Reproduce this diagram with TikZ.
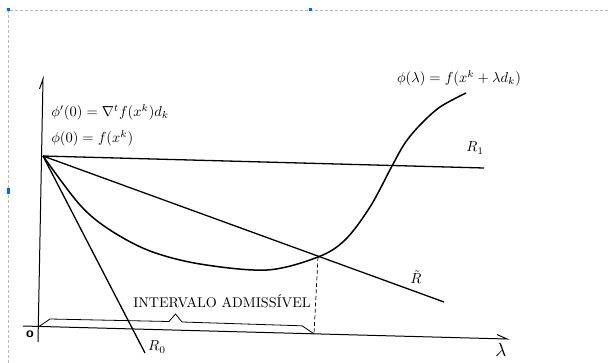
\documentclass[tikz,border=0pt]{standalone}
\usepackage{amsmath}
\begin{document}
\begin{tikzpicture}[x=1pt,y=-1pt,
  curve/.style={line width=1.5pt},
  rline/.style={line width=1.3pt},
  axisline/.style={line width=1pt},
  bracel/.style={line width=0.8pt},
  lbl/.style={inner sep=0pt, scale=1.45},
  frame/.style={gray!55, dash pattern=on 3pt off 2pt, line width=0.5pt},
  handle/.style={fill=blue!60!cyan}
]
\useasboundingbox (0,0) rectangle (609,363);
% screenshot frame
\draw[frame] (8,363) -- (8,10) -- (609,10);
\fill[handle] (6.5,8.5) rectangle (9.5,11.5);
\fill[handle] (308.5,8.5) rectangle (311.5,11.5);
\fill[handle] (6.5,188.5) rectangle (9.5,193.5);
% coordinates
\coordinate (P) at (43,156);
\coordinate (R1e) at (484,168);
\coordinate (Rte) at (444,302);
\coordinate (R0e) at (145,353);
\coordinate (Q) at (318,257);
\coordinate (Qa) at (314,333.8);
\coordinate (Vt) at (43,79);
\coordinate (Vb) at (38,342);
\coordinate (Vh) at (39.5,89);
\coordinate (Hs) at (23,326);
\coordinate (He) at (507,339);
\coordinate (Hh) at (497,334.5);
% axes
\draw[axisline] (Vb) -- (Vt) -- (Vh);
\draw[axisline] (Hs) -- (He) -- (Hh);
% lines
\draw[rline] (P) -- (R1e);
\draw[rline] (P) -- (Rte);
\draw[rline] (P) -- (R0e);
% curve
\draw[curve] plot[smooth, tension=0.55] coordinates {(43,156) (80,205) (110,230) (150,251) (200,264) (267,270) (318,257) (345,240) (370,207) (392,166) (405,143) (420,125) (440,107) (466,93)};
% dashed
\draw[line width=0.7pt, dash pattern=on 4pt off 2.5pt] (Q) -- (Qa);
% brace
\draw[bracel] (39,326.5) -- (50,319) -- (169,321.5) -- (175.5,314) -- (182,322) -- (302,325.8) -- (Qa);
% labels
\node[lbl, anchor=west] (dphi) at (51,112) {$\phi'(0) = \nabla^t f(x^k)d_k$};
\node[lbl, anchor=west] (phi0) at (51,138) {$\phi(0) = f(x^k)$};
\node[lbl] (phil) at (459,78) {$\phi(\lambda) = f(x^k + \lambda d_k)$};
\node[lbl] (r1) at (475,148) {$R_1$};
\node[lbl] (rt) at (416,277) {$\tilde{R}$};
\node[lbl] (r0) at (157,347) {$R_0$};
\node[inner sep=0pt, scale=1.41] (iv) at (222,301) {INTERVALO ADMISSÍVEL};
\node[inner sep=0pt, scale=1.9] (lam) at (501,350) {$\lambda$};
\node[inner sep=0pt, scale=1.4, font=\sffamily\bfseries] (o) at (30,334) {o};
\end{tikzpicture}
\end{document}
